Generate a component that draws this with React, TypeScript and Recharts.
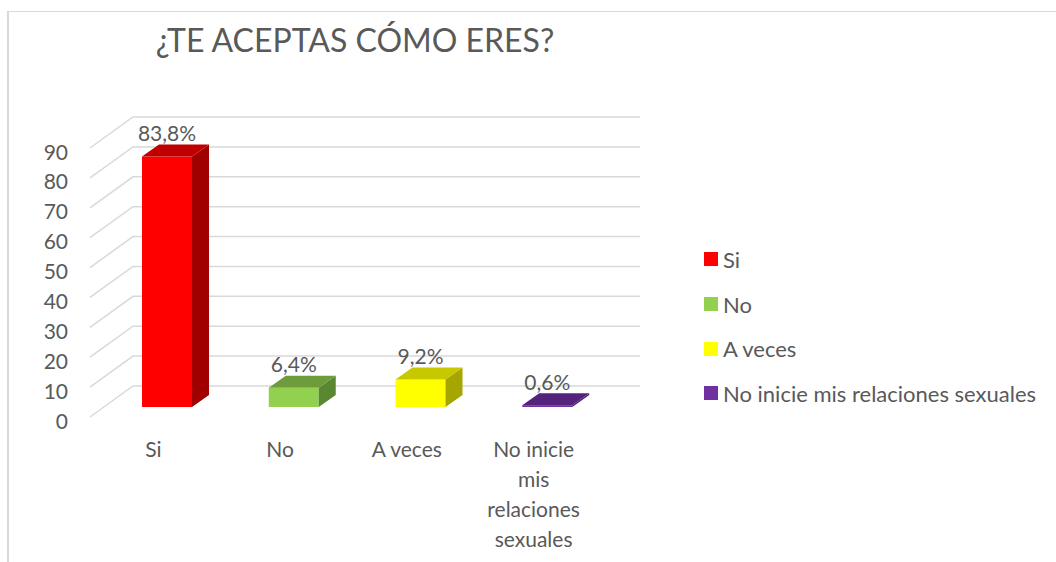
import { BarChart, Bar, XAxis, YAxis, CartesianGrid, LabelList } from 'recharts';

const categories = ['Si', 'No', 'A veces', 'No inicie mis relaciones sexuales'];
const values = [83.8, 6.4, 9.2, 0.6];
const yTicks = [0, 10, 20, 30, 40, 50, 60, 70, 80, 90];

const FRONT = ['#ff0000', '#92d050', '#ffff00', '#7030a0'];
const TOP = ['#c00000', '#6e9c3c', '#c8c800', '#56237c'];
const SIDE = ['#a00000', '#5c8732', '#a6a600', '#48206a'];

// 3d offsets, all in px
const FACE_DX = 14;
const FACE_DY = -10;
const DEPTH_DX = 17;
const DEPTH_DY = -12;
const WALL_DX = 43;
const WALL_DY = -31;

const FONT = 'Lato, "Open Sans", sans-serif';
const TEXT = '#595959';
const FS = 21;

const data = categories.map((name, i) => ({ name, value: values[i] }));

const wrap = (label: string, max = 10) => {
  const lines: string[] = [];
  let cur = '';
  label.split(' ').forEach((w) => {
    if (!cur) cur = w;
    else if ((cur + ' ' + w).length <= max) cur += ' ' + w;
    else {
      lines.push(cur);
      cur = w;
    }
  });
  if (cur) lines.push(cur);
  return lines;
};

const Box3D = (props: any) => {
  const { x, y, width, height, index } = props;
  const fx = x + FACE_DX;
  const fy = y + FACE_DY;
  const w = width;
  const h = Math.max(height, 0);
  const top = `${fx},${fy} ${fx + w},${fy} ${fx + w + DEPTH_DX},${fy + DEPTH_DY} ${fx + DEPTH_DX},${fy + DEPTH_DY}`;
  const side = `${fx + w},${fy} ${fx + w + DEPTH_DX},${fy + DEPTH_DY} ${fx + w + DEPTH_DX},${fy + h + DEPTH_DY} ${fx + w},${fy + h}`;
  return (
    <g>
      <rect x={fx} y={fy} width={w} height={h} fill={FRONT[index]} />
      <polygon points={side} fill={SIDE[index]} />
      <polygon points={top} fill={TOP[index]} />
    </g>
  );
};

const BarLabel = (props: any) => {
  const { x, y, width, value } = props;
  return (
    <text
      x={x + FACE_DX + width / 2}
      y={y + FACE_DY - 24}
      textAnchor="middle"
      dominantBaseline="central"
      fontFamily={FONT}
      fontSize={FS}
      fill={TEXT}
    >
      {value.toFixed(1).replace('.', ',')}%
    </text>
  );
};

const YTick = (props: any) => {
  const { y, payload } = props;
  return (
    <text x={68} y={y + 3} textAnchor="end" dominantBaseline="central" fontFamily={FONT} fontSize={FS} fill={TEXT}>
      {payload.value}
    </text>
  );
};

const XTick = (props: any) => {
  const { x, y, payload } = props;
  const lines = wrap(payload.value);
  return (
    <g>
      {lines.map((l, i) => (
        <text
          key={i}
          x={x}
          y={y + 23 + i * 30}
          textAnchor="middle"
          dominantBaseline="central"
          fontFamily={FONT}
          fontSize={FS}
          fill={TEXT}
        >
          {l}
        </text>
      ))}
    </g>
  );
};

const gridLine = (p: any) => (
  <path
    key={`grid-${p.index}`}
    d={`M${p.x1},${p.y1} L${p.x1 + WALL_DX},${p.y1 + WALL_DY} L${p.x2 + WALL_DX},${p.y1 + WALL_DY}`}
    stroke="#d9d9d9"
    strokeWidth={1.5}
    fill="none"
  />
);

export default function App() {
  return (
    <div style={{ position: 'fixed', left: 0, top: 0, width: 1056, height: 562, overflow: 'hidden', background: '#fff' }}>
      <div
        style={{
          position: 'absolute',
          left: 7,
          top: 11,
          width: 1100,
          height: 600,
          borderLeft: '2px solid #d9d9d9',
          borderTop: '1px solid #d9d9d9',
        }}
      />
      <svg style={{ position: 'absolute', left: 0, top: 0 }} width={1056} height={80}>
        <text x={355} y={52} textAnchor="middle" fontFamily={FONT} fontSize={32} fill={TEXT}>
          ¿TE ACEPTAS CÓMO ERES?
        </text>
      </svg>
      <div style={{ position: 'absolute', left: 0, top: 0 }}>
        <BarChart
          width={1056}
          height={562}
          data={data}
          margin={{ top: 148, right: 459, left: 30, bottom: 0 }}
        >
          <CartesianGrid vertical={false} horizontal={gridLine} />
          <XAxis dataKey="name" axisLine={false} tickLine={false} interval={0} height={145} tick={XTick} />
          <YAxis
            domain={[0, 90]}
            ticks={yTicks}
            interval={0}
            axisLine={false}
            tickLine={false}
            width={60}
            tick={YTick}
          />
          <Bar dataKey="value" barSize={50} shape={Box3D} isAnimationActive={false}>
            <LabelList dataKey="value" content={BarLabel} />
          </Bar>
        </BarChart>
      </div>
      <div style={{ position: 'absolute', left: 704, top: 237, fontFamily: FONT, fontSize: 22, color: TEXT }}>
        {categories.map((c, i) => (
          <div key={c} style={{ height: 44.7, display: 'flex', alignItems: 'center', whiteSpace: 'nowrap' }}>
            <span style={{ width: 14, height: 14, background: FRONT[i], display: 'inline-block', marginRight: 5 }} />
            {c}
          </div>
        ))}
      </div>
    </div>
  );
}
